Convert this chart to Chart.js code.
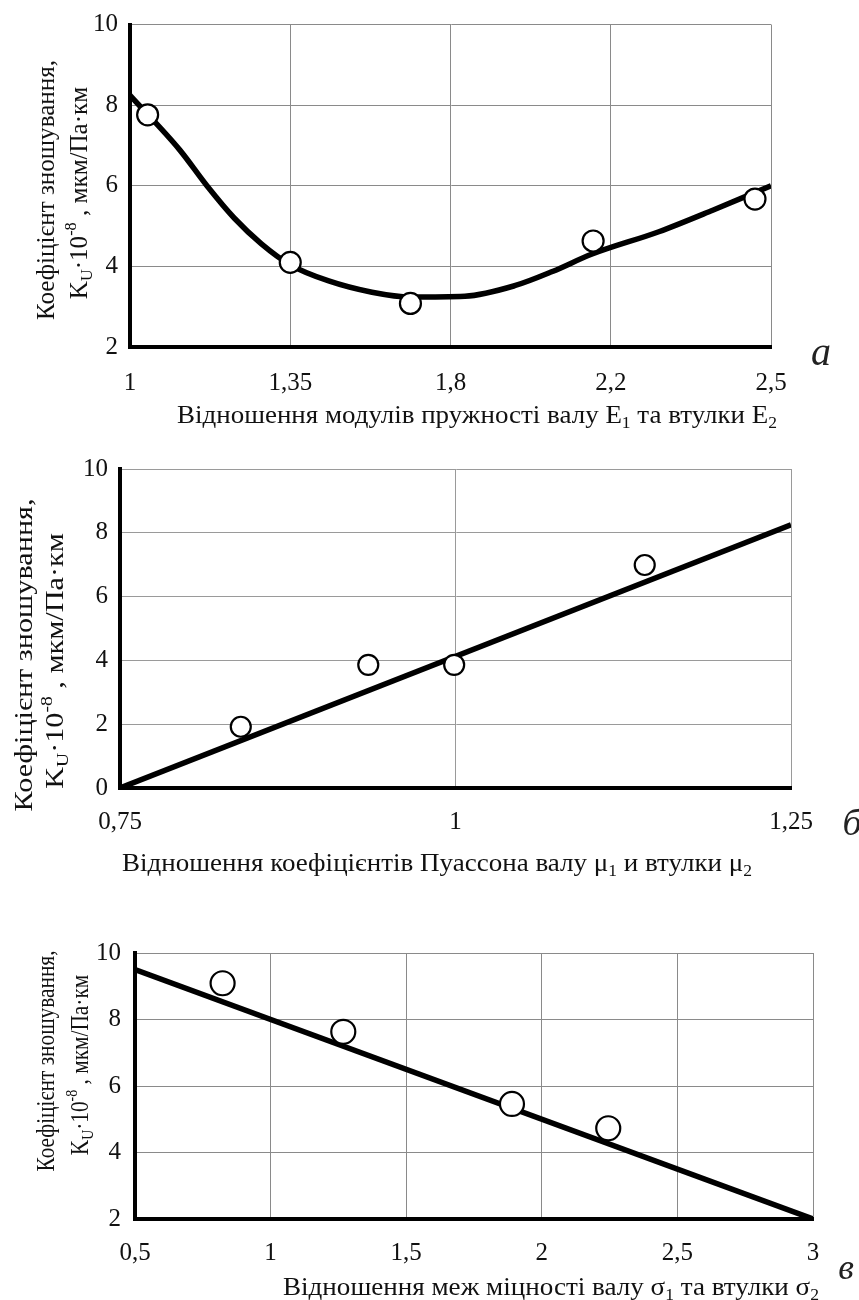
<!DOCTYPE html>
<html><head><meta charset="utf-8">
<script src="https://cdn.jsdelivr.net/npm/chart.js@4.4.0/dist/chart.umd.min.js"></script>
<style>
html,body{margin:0;padding:0;background:#fff;width:859px;height:1300px;overflow:hidden}
.box{position:absolute;left:0;width:859px}
</style></head><body>
<div class="box" style="top:0;height:440px"><canvas id="c1"></canvas></div>
<div class="box" style="top:440px;height:440px"><canvas id="c2"></canvas></div>
<div class="box" style="top:880px;height:420px"><canvas id="c3"></canvas></div>
<script>
// ---------- DATA ----------
// Chart а: ratio of elastic moduli (categorical positions 0..4)
const xLabelsA = ['1', '1,35', '1,8', '2,2', '2,5'];
const curveAx = [0, 0.31, 0.48, 0.65, 0.82, 1.0, 1.24, 1.51, 1.75, 2.09, 2.4, 2.64, 2.88, 3.3, 3.64, 4.0];
const curveAy = [8.24, 6.89, 6.0, 5.2, 4.56, 4.04, 3.64, 3.36, 3.24, 3.26, 3.52, 3.88, 4.3, 4.86, 5.4, 6.0];
const pointsAx = [0.11, 1.0, 1.75, 2.89, 3.9];
const pointsAy = [7.76, 4.1, 3.08, 4.63, 5.67];

// Chart б: ratio of Poisson coefficients
const lineBx = [0.75, 1.25];
const lineBy = [0, 8.25];
const pointsBx = [0.84, 0.935, 0.999, 1.141];
const pointsBy = [1.92, 3.86, 3.86, 6.99];

// Chart в: ratio of strength limits
const lineCx = [0.5, 3];
const lineCy = [9.5, 2.0];
const pointsCx = [0.823, 1.268, 1.89, 2.245];
const pointsCy = [9.09, 7.63, 5.46, 4.73];

// Texts
const yTitle1 = [{t:'Коефіцієнт зношування,'}];
const yTitle2 = [{t:'K'},{t:'U',sub:1},{t:'·10'},{t:'-8',sup:1},{t:' , мкм/Па·км'}];
const xTitleA = [{t:'Відношення модулів пружності валу E'},{t:'1',sub:1},{t:' та втулки E'},{t:'2',sub:1}];
const xTitleB = [{t:'Відношення коефіцієнтів Пуассона валу μ'},{t:'1',sub:1},{t:' и втулки μ'},{t:'2',sub:1}];
const xTitleC = [{t:'Відношення меж міцності валу σ'},{t:'1',sub:1},{t:' та втулки σ'},{t:'2',sub:1}];

// ---------- HELPERS ----------
const FONT = '"Liberation Serif","Times New Roman",serif';
function fontFor(seg, size){ const s = (seg.sub||seg.sup) ? size*0.65 : size; return s.toFixed(1)+'px '+FONT; }
function measure(ctx, segs, size){ return segs.map(s=>{ctx.font=fontFor(s,size); return ctx.measureText(s.t).width;}); }
function drawRich(ctx, segs, size, cx, cy, k, rot){
  const w = measure(ctx, segs, size);
  const W = w.reduce((a,b)=>a+b,0);
  ctx.save();
  ctx.translate(cx, cy);
  if (rot) ctx.rotate(-Math.PI/2);
  ctx.scale(k, 1);
  ctx.fillStyle = '#111'; ctx.textBaseline = 'alphabetic'; ctx.textAlign = 'left';
  let x = -W/2; const base = size*0.33;
  segs.forEach((s,i)=>{
    ctx.font = fontFor(s,size);
    const dy = s.sub ? size*0.22 : (s.sup ? -size*0.42 : 0);
    ctx.fillText(s.t, x, base+dy);
    x += w[i];
  });
  ctx.restore();
}
function widthOf(ctx, segs, size){ return measure(ctx, segs, size).reduce((a,b)=>a+b,0); }

const richPlugin = {
  id: 'richTitles',
  afterDraw(chart, args, o){
    const ctx = chart.ctx;
    const ys = 26;
    const k = o.yLen / widthOf(ctx, yTitle1, ys);
    drawRich(ctx, yTitle1, ys, o.y1x, o.y1y, k, true);
    drawRich(ctx, yTitle2, ys, o.y2x, o.y2y, k, true);
    const xs = 26;
    const kx = o.xLen / widthOf(ctx, o.xSegs, xs);
    drawRich(ctx, o.xSegs, xs, o.xx, o.xy, kx, false);
    ctx.save();
    ctx.font = 'italic ' + o.letterSize + 'px ' + FONT;
    ctx.fillStyle = '#222'; ctx.textAlign = 'center'; ctx.textBaseline = 'middle';
    ctx.fillText(o.letter, o.lx, o.ly);
    ctx.restore();
  }
};

function pts(xs, ys){ return xs.map((x,i)=>({x:x, y:ys[i]})); }

function makeChart(id, c){
  const H = c.H;
  new Chart(document.getElementById(id), {
    type: 'scatter',
    data: { datasets: [
      { type:'line', data: pts(c.lx, c.ly), borderColor:'#000', borderWidth:c.lw, pointRadius:0,
        cubicInterpolationMode: c.smooth ? 'monotone' : 'default', tension: 0, fill:false, order:2 },
      { type:'scatter', data: pts(c.px, c.py), backgroundColor:'#fff', borderColor:'#000', borderWidth:2.2,
        pointRadius:c.pr, pointHoverRadius:c.pr, order:1 }
    ]},
    options: {
      responsive:true, maintainAspectRatio:false, animation:false, devicePixelRatio:1,
      events: [],
      layout: { padding: { top: c.top, right: 859 - c.right, left: 0, bottom: 0 } },
      plugins: { legend:{display:false}, tooltip:{enabled:false},
        richTitles: c.titles },
      scales: {
        x: { type:'linear', min:c.xmin, max:c.xmax,
          afterFit: s => { s.height = H - c.bottom; },
          grid: { color:c.gridColor, lineWidth:1, drawTicks:false },
          border: { color:'#000', width:4 },
          ticks: { stepSize:c.xstep, padding:c.xpad, color:'#111', maxRotation:0, autoSkip:false,
            font:{ family:FONT, size:25 }, callback: c.xcb },
        },
        y: { type:'linear', min:c.ymin, max:c.ymax,
          afterFit: s => { s.width = c.left; },
          grid: { color:c.gridColor, lineWidth:1, drawTicks:false },
          border: { color:'#000', width:4 },
          ticks: { stepSize:2, padding:c.ypad, color:'#111', font:{ family:FONT, size:25, lineHeight:1 } }
        }
      }
    },
    plugins: [richPlugin]
  });
}

const commaFmt = v => String(Math.round(v*100)/100).replace('.', ',');

makeChart('c1', { H:440, left:130, right:771, top:14, bottom:347,
  lx:curveAx, ly:curveAy, px:pointsAx, py:pointsAy, smooth:true, lw:5.5, pr:10.5,
  xmin:0, xmax:4, xstep:1, xcb: v => xLabelsA[Math.round(v)] ?? '', xpad:21, ypad:12,
  ymin:2, ymax:10, gridColor:'#8a8a8a',
  titles:{ yLen:260, y1x:45, y1y:190, y2x:78, y2y:193, xSegs:xTitleA, xLen:600, xx:477, xy:414,
    letter:'а', letterSize:40, lx:821, ly:354 } });

makeChart('c2', { H:440, left:120, right:791, top:29, bottom:348,
  lx:lineBx, ly:lineBy, px:pointsBx, py:pointsBy, smooth:false, lw:5.5, pr:10,
  xmin:0.75, xmax:1.25, xstep:0.25, xcb: commaFmt, xpad:19, ypad:12,
  ymin:0, ymax:10, gridColor:'#9a9a9a',
  titles:{ yLen:313, y1x:23, y1y:215, y2x:54, y2y:221, xSegs:xTitleB, xLen:630, xx:437, xy:422,
    letter:'б', letterSize:38, lx:852, ly:385 } });

makeChart('c3', { H:420, left:135, right:813, top:73, bottom:339,
  lx:lineCx, ly:lineCy, px:pointsCx, py:pointsCy, smooth:false, lw:5.5, pr:12,
  xmin:0.5, xmax:3, xstep:0.5, xcb: commaFmt, xpad:19, ypad:14,
  ymin:2, ymax:10, gridColor:'#8a8a8a',
  titles:{ yLen:221, y1x:45, y1y:181, y2x:79, y2y:185, xSegs:xTitleC, xLen:536, xx:551, xy:406,
    letter:'в', letterSize:36, lx:846, ly:390 } });
</script>
</body></html>
